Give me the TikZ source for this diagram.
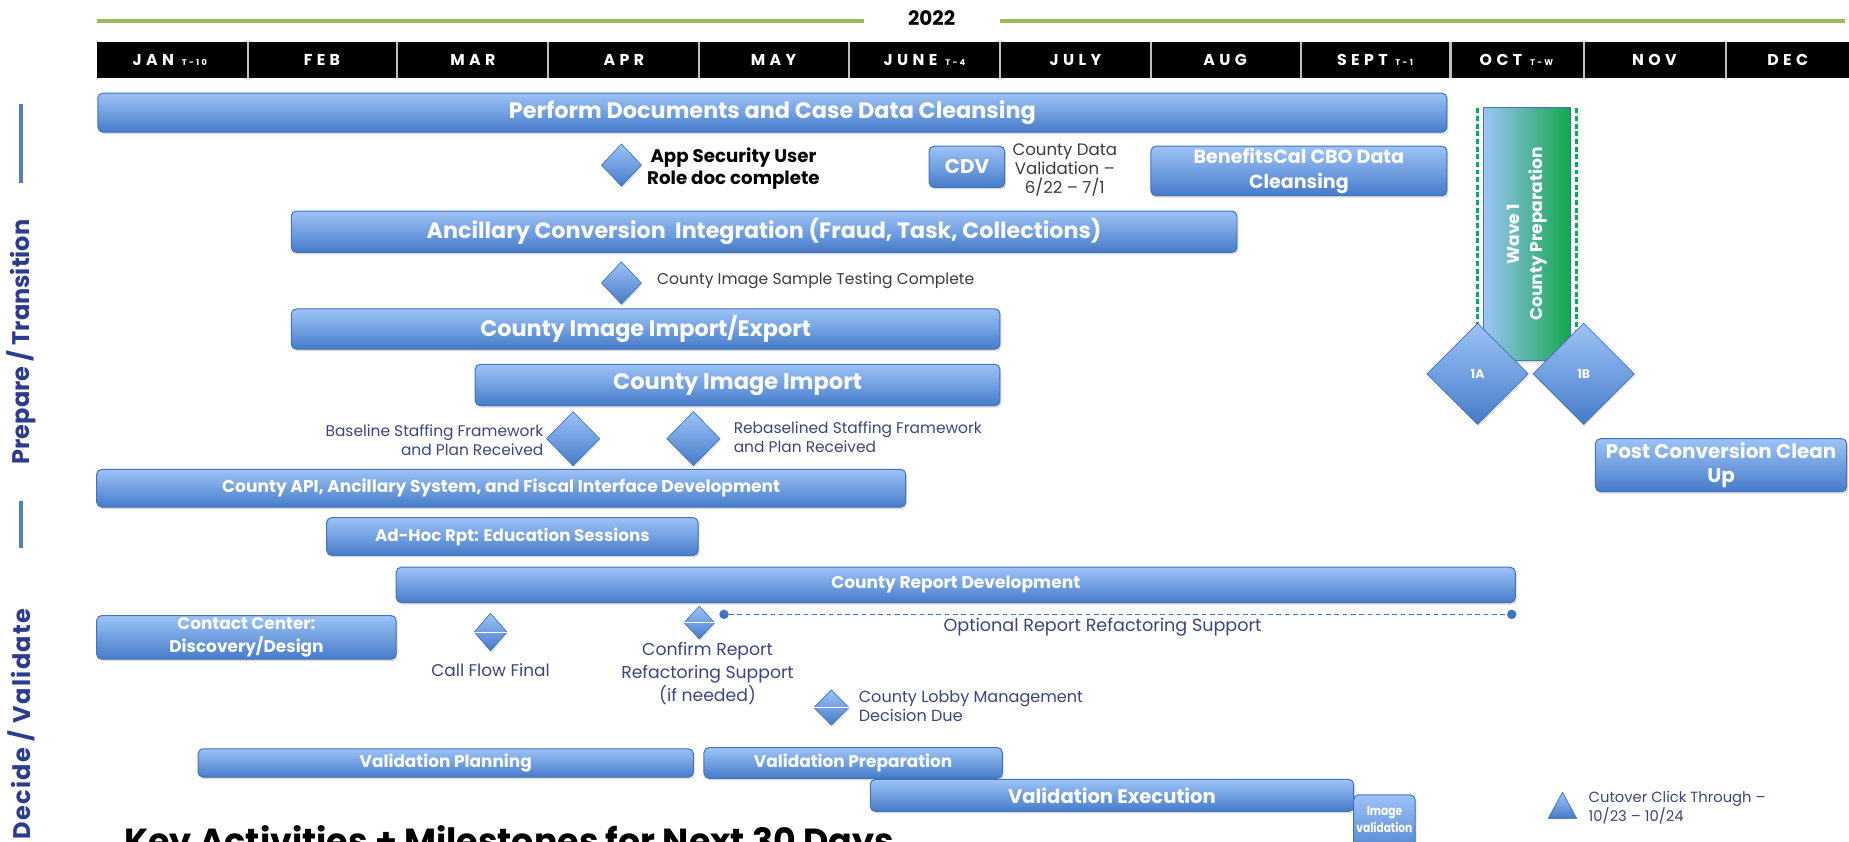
\documentclass[tikz,border=0pt]{standalone}
\usepackage{fontspec}
\setmainfont{Poppins}
\newfontfamily\narrowfont[FakeStretch=0.82,Ligatures=TeX]{Poppins}
\usetikzlibrary{shapes.geometric,positioning,fit,shadows}

\definecolor{bartop}{HTML}{9DC3F7}
\definecolor{barbot}{HTML}{467BC9}
\definecolor{barline}{HTML}{4173BF}
\definecolor{leaf}{HTML}{9BBB59}
\definecolor{phase}{HTML}{2B3C8E}
\definecolor{phaseline}{HTML}{4F7FBF}
\definecolor{labelnavy}{HTML}{3A4580}
\definecolor{labelgray}{HTML}{3C3C3C}
\definecolor{wavegreen}{HTML}{12A84C}
\definecolor{dashgreen}{HTML}{00B050}
\definecolor{sepgray}{HTML}{BFBFBF}

\newcommand\tsub[1]{\enspace{\fontsize{5}{5}\selectfont #1}}

\tikzset{
  bar/.style={rounded corners=3pt, draw=barline, line width=0.6pt,
    top color=bartop, bottom color=barbot, inner sep=0pt,
    drop shadow={opacity=0.3, shadow xshift=0.8pt, shadow yshift=-1.2pt}},
  bartext/.style={text=white, align=center, inner sep=0pt},
  mile/.style={diamond, draw=barline, line width=0.4pt, top color=bartop,
    bottom color=barbot, inner sep=0pt, aspect=1,
    drop shadow={opacity=0.25, shadow xshift=0.6pt, shadow yshift=-1pt}},
  lbl/.style={inner sep=0pt, text=labelnavy},
  monthlbl/.style={text=white, font=\bfseries\fontsize{9.5}{10}\selectfont\addfontfeatures{LetterSpace=28}},
  yearrule/.style={leaf, line width=2.2pt},
  monthsep/.style={sepgray, line width=1.3pt},
  phaselbl/.style={rotate=90, text=phase, font=\bfseries\fontsize{14.5}{15}\selectfont},
  greendash/.style={dashgreen, line width=2pt, dash pattern=on 3pt off 1.6pt},
  dot/.style={circle, fill=barline, inner sep=0pt, minimum size=0.2cm}
}

\begin{document}
\begin{tikzpicture}[x=0.025cm, y=-0.025cm]
\clip (0,0) rectangle (1568,714);

% year and months
\draw[yearrule] (82,18) -- (733,18);
\draw[yearrule] (848,18) -- (1565,18);
\node[font=\bfseries\fontsize{12}{12}\selectfont] (year) at (790,15) {2022};
\fill[black] (82,36) rectangle (1568,66);
\foreach \x in {210,337,465,593,720,848,976,1103,1230,1343,1464}
  \draw[monthsep] (\x,36) -- (\x,66);
\foreach \x/\m in {144/JAN\tsub{T-10},273/FEB,401/MAR,529/APR,656/MAY,
    784/JUNE\tsub{T-4},912/JULY,1039/AUG,1166/SEPT\tsub{T-1},1286/OCT\tsub{T-W},
    1403/NOV,1516/DEC}
  \node[monthlbl] (mon-\x) at (\x,51) {\m};

% phases
\draw[phaseline, line width=2.2pt] (18,88) -- (18,155);
\draw[phaseline, line width=2.2pt] (18,425) -- (18,465);
\node[phaselbl] (prepare) at (18,290) {Prepare / Transition};
\node[phaselbl, font=\bfseries\fontsize{14.5}{15}\selectfont\addfontfeatures{LetterSpace=6}] (decide) at (18,614) {Decide / Validate};

% prepare / transition
\node[bar, fit={(83,79) (1227,112)}] (cleanse) {};
\node[bartext, font=\bfseries\fontsize{13.5}{15}\selectfont] at (cleanse.center) {Perform Documents and Case Data Cleansing};
\node[mile, minimum width=0.85cm, minimum height=0.9cm] (appsec) at (527,140) {};
\node[align=center, inner sep=0pt, font=\bfseries\fontsize{11}{13.5}\selectfont] (appsectxt) at (622,143) {App Security User\\Role doc complete};
\node[bar, fit={(788,124) (852,159)}] (cdv) {};
\node[bartext, font=\bfseries\fontsize{12}{14}\selectfont] at (cdv.center) {CDV};
\node[align=center, inner sep=0pt, text=labelgray, font=\fontsize{10}{11.4}\selectfont] (cdvtxt) at (903,144) {County Data\\Validation –\\6/22 – 7/1};
\node[bar, fit={(976,124) (1227,166)}] (cbo) {};
\node[bartext, font=\bfseries\fontsize{11.5}{15}\selectfont] at (cbo.center) {BenefitsCal CBO Data\\Cleansing};
\node[bar, fit={(247,179) (1049,214)}] (ancillary) {};
\node[bartext, font=\bfseries\fontsize{13.4}{15}\selectfont] at (ancillary.center) {Ancillary Conversion\ \ Integration (Fraud, Task, Collections)};
\node[mile, minimum width=0.85cm, minimum height=0.9cm] (sample) at (527,240) {};
\node[anchor=west, inner sep=0pt, text=labelgray, font=\fontsize{9.4}{11}\selectfont] (sampletxt) at (557,238) {County Image Sample Testing Complete};
\node[bar, fit={(247,262) (848,296)}] (imgexp) {};
\node[bartext, font=\bfseries\fontsize{13.5}{15}\selectfont] at (imgexp.center) {County Image Import/Export};
\node[bar, fit={(403,309) (848,344)}] (imgimp) {};
\node[bartext, font=\bfseries\fontsize{13.6}{15}\selectfont] at (imgimp.center) {County Image Import};
\node[mile, minimum width=1.13cm, minimum height=1.15cm] (baseline) at (486,372) {};
\node[lbl, anchor=east, align=right, font=\fontsize{9.3}{11.4}\selectfont] (baselinetxt) at (461,373) {Baseline Staffing Framework\\and Plan Received};
\node[mile, minimum width=1.13cm, minimum height=1.15cm] (rebase) at (588,372) {};
\node[lbl, anchor=west, align=left, font=\fontsize{9.3}{11.4}\selectfont] (rebasetxt) at (622,371) {Rebaselined Staffing Framework\\and Plan Received};
\node[bar, fit={(82,398) (768,430)}] (api) {};
\node[bartext, font=\bfseries\fontsize{10.3}{12}\selectfont] at (api.center) {County API, Ancillary System, and Fiscal Interface Development};
\node[bar, fit={(277,439) (592,471)}] (adhoc) {};
\node[bartext, font=\bfseries\fontsize{10.1}{12}\selectfont] at (adhoc.center) {Ad-Hoc Rpt: Education Sessions};

% wave 1
\node[fit={(1258,91) (1332,306)}, inner sep=0pt, draw=barline, line width=0.5pt,
  left color=bartop, right color=wavegreen,
  drop shadow={opacity=0.25, shadow xshift=0.8pt, shadow yshift=-1.2pt}] (wave) {};
\node[rotate=90, align=center, text=white, font=\bfseries\fontsize{10.3}{14}\selectfont] (wavetxt) at (wave.center) {Wave 1\\County Preparation};
\draw[greendash] (1253,92) -- (1253,285);
\draw[greendash] (1337,92) -- (1337,285);
\node[mile, minimum size=2.15cm, text=white, font=\bfseries\fontsize{7.5}{8}\selectfont] (w1a) at (1253,317) {1A};
\node[mile, minimum size=2.15cm, text=white, font=\bfseries\fontsize{7.5}{8}\selectfont] (w1b) at (1343,317) {1B};
\node[bar, fit={(1353,372) (1566,417)}] (postconv) {};
\node[bartext, font=\bfseries\fontsize{12}{14.2}\selectfont] at (postconv.center) {Post Conversion Clean\\Up};

% decide / validate
\node[bar, fit={(336,481) (1285,511)}] (rptdev) {};
\node[bartext, font=\bfseries\fontsize{10.3}{12}\selectfont] at (rptdev.center) {County Report Development};
\node[bar, fit={(82,522) (336,559)}] (contact) {};
\node[bartext, font=\bfseries\fontsize{10.2}{13.5}\selectfont] at (contact.center) {Contact Center:\\Discovery/Design};
\node[mile, minimum width=0.7cm, minimum height=0.8cm] (callflow) at (416,536) {};
\draw[white, line width=0.4pt] (callflow.west) -- (callflow.east);
\node[lbl, font=\fontsize{10.2}{12}\selectfont] (callflowtxt) at (416,568) {Call Flow Final};
\node[mile, minimum width=0.65cm, minimum height=0.7cm] (confirm) at (593,528) {};
\draw[white, line width=0.4pt] (confirm.west) -- (confirm.east);
\node[lbl, align=center, font=\fontsize{10.4}{14}\selectfont] (confirmtxt) at (600,571) {Confirm Report\\Refactoring Support\\(if needed)};
\node[dot] (optstart) at (614,521) {};
\node[dot] (optend) at (1282,521) {};
\draw[barline, line width=0.9pt, dash pattern=on 2.8pt off 2.2pt] (optstart) -- (optend);
\node[lbl, font=\fontsize{10.6}{12}\selectfont] (opttxt) at (935,532) {Optional Report Refactoring Support};
\node[mile, minimum width=0.75cm, minimum height=0.75cm] (lobby) at (705,600) {};
\draw[white, line width=0.4pt] (lobby.west) -- (lobby.east);
\node[lbl, anchor=west, align=left, font=\fontsize{9.7}{11.4}\selectfont] (lobbytxt) at (728,599) {County Lobby Management\\Decision Due};
\node[bar, fit={(168,635) (588,659)}] (valplan) {};
\node[bartext, font=\bfseries\fontsize{10.2}{12}\selectfont] at (valplan.center) {Validation Planning};
\node[bar, fit={(597,634) (850,660)}] (valprep) {};
\node[bartext, font=\bfseries\fontsize{10.2}{12}\selectfont] at (valprep.center) {Validation Preparation};
\node[bar, fit={(738,661) (1148,688)}] (valexec) {};
\node[bartext, font=\bfseries\fontsize{11.8}{12}\selectfont] at (valexec.center) {Validation Execution};
\node[bar, fit={(1148,674) (1200,730)}] (imgval) {};
\node[bartext, font=\narrowfont\bfseries\fontsize{7.8}{10.5}\selectfont] at (1174,695) {Image\\validation};
\fill[top color=bartop, bottom color=barbot, draw=barline, line width=0.4pt] (1313,694) -- (1325,672) -- (1337,694) -- cycle;
\node[lbl, anchor=west, align=left, font=\fontsize{8.9}{10.7}\selectfont] (cutovertxt) at (1347,685) {Cutover Click Through –\\10/23 – 10/24};

\node[anchor=base west, inner sep=0pt, font=\bfseries\fontsize{21}{22}\selectfont] (keytitle) at (105,724) {Key Activities + Milestones for Next 30 Days};
\end{tikzpicture}
\end{document}
